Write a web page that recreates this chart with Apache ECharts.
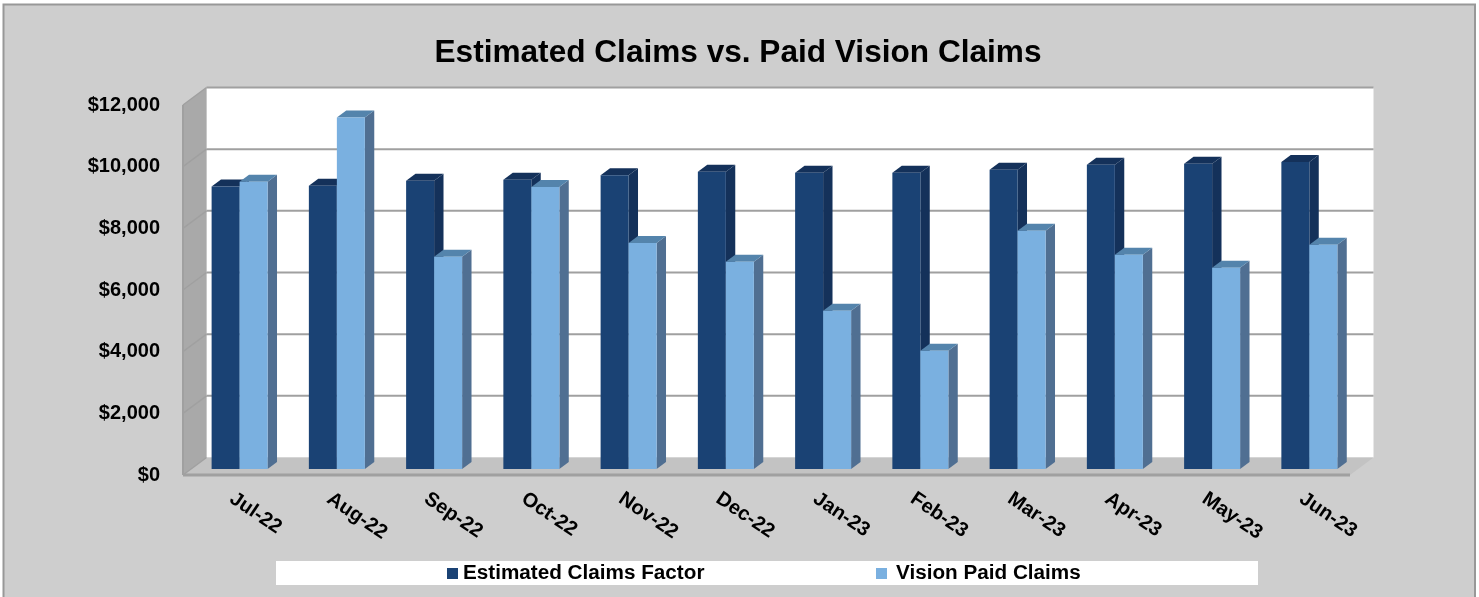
<!DOCTYPE html>
<html>
<head>
<meta charset="utf-8">
<style>
  html, body { margin: 0; padding: 0; background: #fff; }
  #chart { width: 1479px; height: 597px; }
</style>
<script src="https://cdn.jsdelivr.net/npm/echarts@6/dist/echarts.min.js"></script>
</head>
<body>
<div id="chart"></div>
<script>
var months = ['Jul-22', 'Aug-22', 'Sep-22', 'Oct-22', 'Nov-22', 'Dec-22', 'Jan-23', 'Feb-23', 'Mar-23', 'Apr-23', 'May-23', 'Jun-23']
var estimatedClaims = [9165, 9190, 9350, 9380, 9530, 9640, 9610, 9610, 9710, 9870, 9900, 9960]
var paidClaims = [9317, 11400, 6885, 9150, 7330, 6725, 5135, 3840, 7730, 6950, 6530, 7275]
var yTicks = [0, 2000, 4000, 6000, 8000, 10000, 12000]

var FONT = '"Liberation Sans", Arial, sans-serif'
// 3d look: how far the back wall sits from the front plane
var DEPTH_X = 23.5
var DEPTH_Y = -17.5
// bars stand a bit behind the front plane
var BAR_T = 0.34
var BAR_DEPTH_T = 0.4
var BAR_W = 28

function poly (points, fill) {
  return { type: 'polygon', shape: { points: points }, style: { fill: fill } }
}

function line (x1, y1, x2, y2, width) {
  return {
    type: 'line',
    shape: { x1: x1, y1: y1, x2: x2, y2: y2 },
    style: { stroke: '#a0a0a0', lineWidth: width }
  }
}

// walls, floor and grid lines
function renderWalls (params, api) {
  var cs = params.coordSys
  var x0 = cs.x
  var x1 = cs.x + cs.width
  var yTop = api.coord([0, 12000])[1]
  var yBot = api.coord([0, 0])[1]
  var dx = DEPTH_X
  var dy = DEPTH_Y
  var children = [
    poly([[x0 + dx, yTop + dy], [x1 + dx, yTop + dy], [x1 + dx, yBot + dy], [x0 + dx, yBot + dy]], '#ffffff'),
    poly([[x0, yTop], [x0 + dx, yTop + dy], [x0 + dx, yBot + dy], [x0, yBot]], '#a9a9a9'),
    poly([[x0, yBot], [x0 + dx, yBot + dy], [x1 + dx, yBot + dy], [x1, yBot]], '#c3c3c3')
  ]
  yTicks.forEach(function (t) {
    var y = api.coord([0, t])[1]
    children.push(line(x0, y, x0 + dx, y + dy, 1.5))
    if (t > 0) children.push(line(x0 + dx, y + dy, x1 + dx, y + dy, 2))
  })
  children.push(line(x0, yTop, x0, yBot, 2))
  children.push(line(x0, yBot, x1, yBot, 3))
  return { type: 'group', children: children }
}

// slot 0 is left of the category center, slot 1 right of it
function makeBarRender (slot, front, top, side) {
  return function (params, api) {
    var p = api.coord([api.value(0), api.value(1)])
    var base = api.coord([api.value(0), 0])
    var ox = DEPTH_X * BAR_T
    var oy = DEPTH_Y * BAR_T
    var ddx = DEPTH_X * BAR_DEPTH_T
    var ddy = DEPTH_Y * BAR_DEPTH_T
    var l = base[0] + ox + (slot - 1) * BAR_W
    var r = l + BAR_W
    var yt = p[1] + oy
    var yb = base[1] + oy
    return {
      type: 'group',
      children: [
        poly([[r, yt], [r + ddx, yt + ddy], [r + ddx, yb + ddy], [r, yb]], side),
        poly([[l, yt], [l + ddx, yt + ddy], [r + ddx, yt + ddy], [r, yt]], top),
        poly([[l, yt], [r, yt], [r, yb], [l, yb]], front)
      ]
    }
  }
}

var legendText = { fontFamily: FONT, fontSize: 20.7, fontWeight: 'bold', color: '#000' }

var myChart = echarts.init(document.getElementById('chart'))
var option = {
  animation: false,
  backgroundColor: '#ffffff',
  textStyle: { fontFamily: FONT },
  title: {
    text: 'Estimated Claims vs. Paid Vision Claims',
    left: 733,
    top: 32,
    textAlign: 'center',
    textStyle: { fontFamily: FONT, fontSize: 31.6, fontWeight: 'bold', color: '#000' }
  },
  graphic: [{
    type: 'rect',
    z: -10,
    silent: true,
    shape: { x: 3.5, y: 4.5, width: 1471.5, height: 600 },
    style: { fill: '#cecece', stroke: '#989898', lineWidth: 2 }
  }, {
    type: 'rect',
    z: -9,
    silent: true,
    shape: { x: 276, y: 561, width: 982, height: 24 },
    style: { fill: '#ffffff' }
  }],
  legend: [{
    left: 447,
    top: 563,
    padding: 0,
    itemWidth: 11,
    itemHeight: 11,
    icon: 'rect',
    textStyle: legendText,
    data: ['Estimated Claims Factor']
  }, {
    left: 876,
    top: 563,
    padding: 0,
    itemWidth: 11,
    itemHeight: 11,
    icon: 'rect',
    textStyle: Object.assign({ padding: [0, 0, 0, 4] }, legendText),
    data: ['Vision Paid Claims']
  }],
  grid: { left: 183, top: 105, width: 1167, height: 370 },
  xAxis: {
    type: 'category',
    data: months,
    axisLine: { show: false },
    axisTick: { show: false },
    axisLabel: {
      rotate: -34,
      margin: 22,
      interval: 0,
      fontFamily: FONT,
      fontSize: 20,
      fontWeight: 'bold',
      color: '#000'
    }
  },
  yAxis: {
    type: 'value',
    min: 0,
    max: 12000,
    interval: 2000,
    axisLine: { show: false },
    axisTick: { show: false },
    splitLine: { show: false },
    axisLabel: {
      margin: 23,
      padding: [10, 0, 0, 0],
      fontFamily: FONT,
      fontSize: 20,
      fontWeight: 'bold',
      color: '#000',
      formatter: function (v) { return '$' + v.toLocaleString('en-US') }
    }
  },
  series: [
    {
      type: 'custom',
      name: 'walls',
      z: 1,
      silent: true,
      renderItem: renderWalls,
      data: [[0, 0]]
    },
    {
      type: 'custom',
      name: 'Estimated Claims Factor',
      z: 2,
      renderItem: makeBarRender(0, '#1a4274', '#14315a', '#14315a'),
      itemStyle: { color: '#1a4274' },
      encode: { x: 0, y: 1 },
      data: estimatedClaims.map(function (v, i) { return [i, v] })
    },
    {
      type: 'custom',
      name: 'Vision Paid Claims',
      z: 3,
      renderItem: makeBarRender(1, '#7ab0e0', '#5484ac', '#506f92'),
      itemStyle: { color: '#7ab0e0' },
      encode: { x: 0, y: 1 },
      data: paidClaims.map(function (v, i) { return [i, v] })
    }
  ]
}
myChart.setOption(option)
</script>
</body>
</html>
